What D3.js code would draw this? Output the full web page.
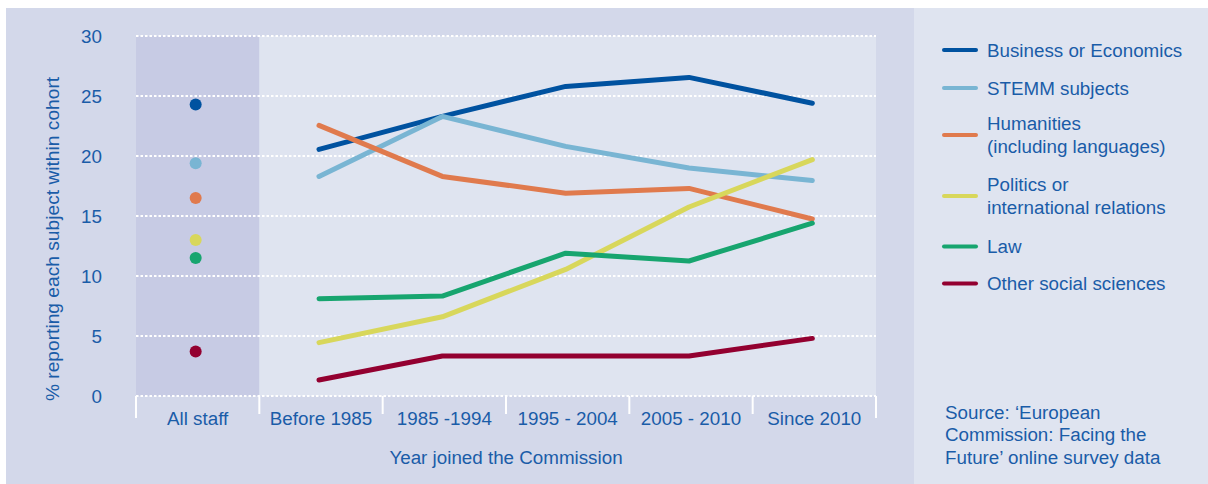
<!DOCTYPE html>
<html>
<head>
<meta charset="utf-8">
<script src="https://cdn.jsdelivr.net/npm/d3@7/dist/d3.min.js"></script>
<style>
  html, body { margin: 0; padding: 0; background: #ffffff; }
  svg { display: block; font-family: "Liberation Sans", Arial, Helvetica, sans-serif; }
</style>
</head>
<body>
<div id="chart"></div>
<script>
// Data
const categories = ["All staff", "Before 1985", "1985 -1994", "1995 - 2004", "2005 - 2010", "Since 2010"];
const cohorts = categories.slice(1);
const subjects = ["Business or Economics", "STEMM subjects", "Humanities\n(including languages)",
                  "Politics or\ninternational relations", "Law", "Other social sciences"];
const colors = ["#0052a0", "#79b5d3", "#e07a4d", "#d8d75b", "#17a56f", "#930030"];
const allStaff = [24.3, 19.4, 16.5, 13.0, 11.5, 3.7];
const business   = [20.55, 23.3, 25.8, 26.55, 24.4];
const stemm      = [18.3, 23.3, 20.8, 19.0, 17.95];
const humanities = [22.55, 18.3, 16.9, 17.3, 14.75];
const politics   = [4.45, 6.6, 10.55, 15.75, 19.7];
const law        = [8.1, 8.33, 11.9, 11.25, 14.4];
const otherSoc   = [1.33, 3.33, 3.33, 3.33, 4.8];
const yTicks = [0, 5, 10, 15, 20, 25, 30];
const sourceLines = ["Source: \u2018European", "Commission: Facing the", "Future\u2019 online survey data"];

const series = [business, stemm, humanities, politics, law, otherSoc];

const W = 1208, H = 484;
const textColor = "#1a5ca8";
const fs = 18.8;
const svg = d3.select("#chart").append("svg").attr("width", W).attr("height", H);

// Panels
svg.append("rect").attr("x", 6).attr("y", 8).attr("width", 908).attr("height", H - 8).attr("fill", "#d3d8ea");
svg.append("rect").attr("x", 914).attr("y", 8).attr("width", W - 914).attr("height", H - 8).attr("fill", "#dfe4f0");

const x = d3.scaleBand().domain(categories).range([136, 876]);
const y = d3.scaleLinear().domain([0, 30]).range([396, 36]);

// Plot backgrounds
svg.append("rect").attr("x", x("All staff")).attr("y", y(30))
    .attr("width", x.bandwidth()).attr("height", y(0) - y(30)).attr("fill", "#c7cbe4");
svg.append("rect").attr("x", x(cohorts[0])).attr("y", y(30))
    .attr("width", 876 - x(cohorts[0])).attr("height", y(0) - y(30)).attr("fill", "#dfe4f0");

// Dotted gridlines
svg.append("g").selectAll("line").data(yTicks).join("line")
    .attr("x1", 136).attr("x2", 876)
    .attr("y1", d => y(d)).attr("y2", d => y(d))
    .attr("stroke", "#ffffff").attr("stroke-width", 2).attr("stroke-dasharray", "2.5,2");

// Category boundary ticks
const bounds = categories.map(c => x(c)).concat([876]);
svg.append("g").selectAll("line").data(bounds).join("line")
    .attr("x1", d => d).attr("x2", d => d)
    .attr("y1", y(0)).attr("y2", (d, i) => (i === 0 || i === bounds.length - 1) ? 418 : 414)
    .attr("stroke", "#ffffff").attr("stroke-width", 2);

// Y tick labels
svg.append("g").selectAll("text").data(yTicks).join("text")
    .attr("x", 102).attr("y", d => y(d)).attr("dy", "0.35em")
    .attr("text-anchor", "end").attr("font-size", fs).attr("fill", textColor)
    .text(d => d);

// X tick labels
svg.append("g").selectAll("text").data(categories).join("text")
    .attr("x", d => x(d) + x.bandwidth() / 2).attr("y", 425)
    .attr("text-anchor", "middle").attr("font-size", fs).attr("fill", textColor)
    .text(d => d);

// Axis titles
svg.append("text").attr("x", 506).attr("y", 464)
    .attr("text-anchor", "middle").attr("font-size", fs).attr("fill", textColor)
    .text("Year joined the Commission");
svg.append("text").attr("transform", "translate(59,239) rotate(-90)")
    .attr("text-anchor", "middle").attr("font-size", 19.2).attr("fill", textColor)
    .text("% reporting each subject within cohort");

// Lines
const line = d3.line()
    .x((d, i) => x(cohorts[i]) + x.bandwidth() / 2 - 2)
    .y(d => y(d));
svg.append("g").selectAll("path").data(series).join("path")
    .attr("d", line)
    .attr("fill", "none")
    .attr("stroke", (d, i) => colors[i])
    .attr("stroke-width", 5)
    .attr("stroke-linecap", "round")
    .attr("stroke-linejoin", "round");

// All staff dots
svg.append("g").selectAll("circle").data(allStaff).join("circle")
    .attr("cx", x("All staff") + x.bandwidth() / 2 - 2)
    .attr("cy", d => y(d)).attr("r", 6)
    .attr("fill", (d, i) => colors[i]);

// Legend
const legendY = [50, 88, 135, 196, 246.5, 283.5];
const leg = svg.append("g").selectAll("g").data(subjects).join("g")
    .attr("transform", (d, i) => `translate(0,${legendY[i]})`);
leg.append("line").attr("x1", 944).attr("x2", 976).attr("y1", 0).attr("y2", 0)
    .attr("stroke", (d, i) => colors[i]).attr("stroke-width", 4).attr("stroke-linecap", "round");
leg.each(function(d) {
    const lines = d.split("\n");
    const t = d3.select(this).append("text")
        .attr("x", 987).attr("font-size", fs).attr("fill", textColor);
    const off = -(lines.length - 1) * 11.3;
    lines.forEach((l, j) => {
        t.append("tspan").attr("x", 987).attr("y", off + j * 22.6).attr("dy", "0.35em").text(l);
    });
});

// Source note
svg.append("g").selectAll("text").data(sourceLines).join("text")
    .attr("x", 945).attr("y", (d, i) => 412 + i * 22.6).attr("dy", "0.35em")
    .attr("font-size", fs).attr("fill", textColor)
    .text(d => d);
</script>
</body>
</html>
